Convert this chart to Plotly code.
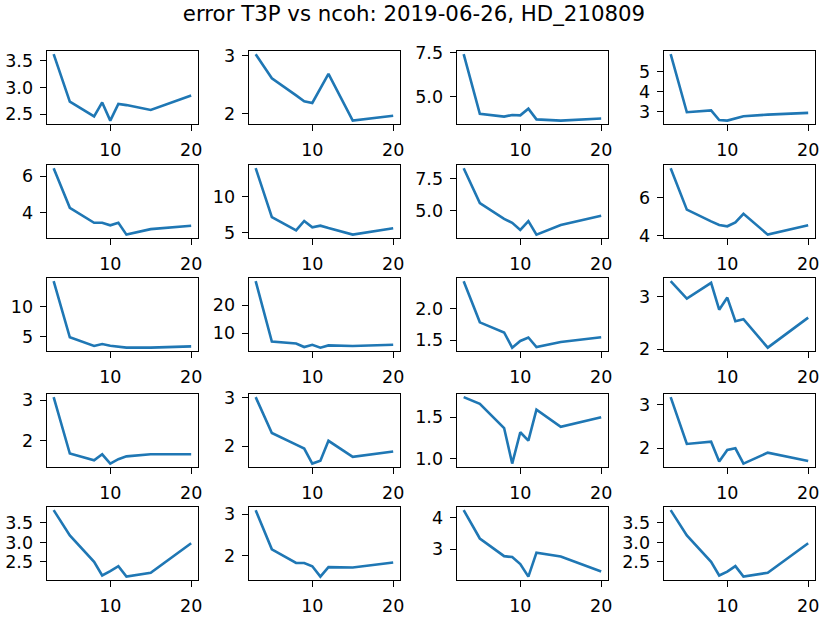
import plotly.graph_objects as go

ncoh = [3, 5, 8, 9, 10, 11, 12, 15, 20]

err_01 = [3.62, 2.735, 2.46, 2.72, 2.38, 2.69, 2.67, 2.58, 2.85]
err_02 = [3.03, 2.615, 2.32, 2.22, 2.19, 2.44, 2.69, 1.885, 1.97]
err_03 = [7.41, 4.02, 3.86, 3.95, 3.93, 4.31, 3.70, 3.63, 3.75]
err_04 = [5.88, 2.97, 3.06, 2.58, 2.55, 2.66, 2.77, 2.85, 2.94]
err_05 = [6.44, 4.26, 3.44, 3.44, 3.30, 3.44, 2.79, 3.09, 3.28]
err_06 = [13.97, 7.14, 5.27, 6.6, 5.71, 5.94, 5.6, 4.69, 5.58]
err_07 = [8.3, 5.58, 4.35, 4.05, 3.5, 4.18, 3.13, 3.88, 4.6]
err_08 = [7.56, 5.37, 4.75, 4.56, 4.49, 4.7, 5.15, 4.05, 4.54]
err_09 = [14.2, 4.9, 3.46, 3.78, 3.51, 3.3, 3.19, 3.19, 3.4]
err_10 = [28.5, 7.05, 6.36, 5.11, 5.9, 4.89, 5.68, 5.45, 5.9]
err_11 = [2.43, 1.78, 1.62, 1.38, 1.485, 1.54, 1.39, 1.47, 1.545]
err_12 = [3.29, 2.96, 3.26, 2.75, 2.98, 2.53, 2.57, 2.03, 2.6]
err_13 = [3.08, 1.68, 1.51, 1.66, 1.43, 1.54, 1.61, 1.66, 1.66]
err_14 = [3.01, 2.27, 2.03, 1.95, 1.64, 1.70, 2.11, 1.78, 1.89]
err_15 = [1.74, 1.66, 1.37, 0.945, 1.32, 1.22, 1.59, 1.385, 1.5]
err_16 = [3.17, 2.10, 2.15, 1.70, 1.96, 2.0, 1.65, 1.9, 1.71]
err_17 = [3.83, 3.18, 2.5, 2.15, 2.26, 2.39, 2.12, 2.22, 2.98]
err_18 = [3.1, 2.15, 1.82, 1.82, 1.74, 1.49, 1.72, 1.71, 1.83]
err_19 = [4.24, 3.34, 2.78, 2.75, 2.53, 2.13, 2.89, 2.77, 2.29]
err_20 = [3.83, 3.18, 2.5, 2.15, 2.25, 2.39, 2.12, 2.22, 2.98]

series = [err_01, err_02, err_03, err_04, err_05, err_06, err_07, err_08,
          err_09, err_10, err_11, err_12, err_13, err_14, err_15, err_16,
          err_17, err_18, err_19, err_20]

ytick_labels = [
    ["2.5", "3.0", "3.5"], ["2", "3"], ["5.0", "7.5"], ["3", "4", "5"],
    ["4", "6"], ["5", "10"], ["5.0", "7.5"], ["4", "6"],
    ["5", "10"], ["10", "20"], ["1.5", "2.0"], ["2", "3"],
    ["2", "3"], ["2", "3"], ["1.0", "1.5"], ["2", "3"],
    ["2.5", "3.0", "3.5"], ["2", "3"], ["3", "4"], ["2.5", "3.0", "3.5"],
]
xtick_labels = ["10", "20"]

title_text = "error T3P vs ncoh: 2019-06-26, HD_210809"

W, H = 830, 623
col_left = [47, 250, 459, 667]
ax_w = 152
row_top = [44, 161, 277, 396, 512]
ax_h = 75

fig = go.Figure()
font = dict(family="DejaVu Sans", size=17.5, color="black")
xmin, xmax = min(ncoh), max(ncoh)
xpad = 0.05 * (xmax - xmin)

layout = dict(
    width=W, height=H,
    margin=dict(l=0, r=0, t=0, b=0),
    paper_bgcolor="white", plot_bgcolor="white",
    showlegend=False,
    font=font,
    title=dict(text=title_text, x=414 / W, xanchor="center", y=1 - 14 / H,
               yanchor="middle", font=dict(family="DejaVu Sans", size=21.3, color="black")),
)

for i, ys in enumerate(series):
    r, c = divmod(i, 4)
    n = i + 1
    xa = "x" if n == 1 else f"x{n}"
    ya = "y" if n == 1 else f"y{n}"
    fig.add_trace(go.Scatter(x=ncoh, y=ys, mode="lines",
                             line=dict(color="#1f77b4", width=2.6),
                             xaxis=xa, yaxis=ya, hoverinfo="skip"))
    ymin, ymax = min(ys), max(ys)
    ypad = 0.05 * (ymax - ymin)
    x0 = col_left[c] / W
    x1 = (col_left[c] + ax_w) / W
    y1 = 1 - row_top[r] / H
    y0 = 1 - (row_top[r] + ax_h) / H
    axis_common = dict(showline=True, linecolor="black", linewidth=1.4, mirror=True,
                       ticks="outside", ticklen=6, tickwidth=1.4, tickcolor="black",
                       showgrid=False, zeroline=False, tickfont=font)
    layout["xaxis" if n == 1 else f"xaxis{n}"] = dict(
        domain=[x0, x1], anchor=ya, range=[xmin - xpad, xmax + xpad],
        tickvals=[float(t) for t in xtick_labels], ticktext=xtick_labels,
        ticklabelstandoff=4, **axis_common)
    layout["yaxis" if n == 1 else f"yaxis{n}"] = dict(
        domain=[y0, y1], anchor=xa, range=[ymin - ypad, ymax + ypad],
        tickvals=[float(t) for t in ytick_labels[i]], ticktext=ytick_labels[i],
        ticklabelstandoff=3, **axis_common)

fig.update_layout(**layout)
fig.write_html("out.html", config={"displayModeBar": False},
               post_script="document.body.style.margin='0px';document.body.style.overflow='hidden';")
